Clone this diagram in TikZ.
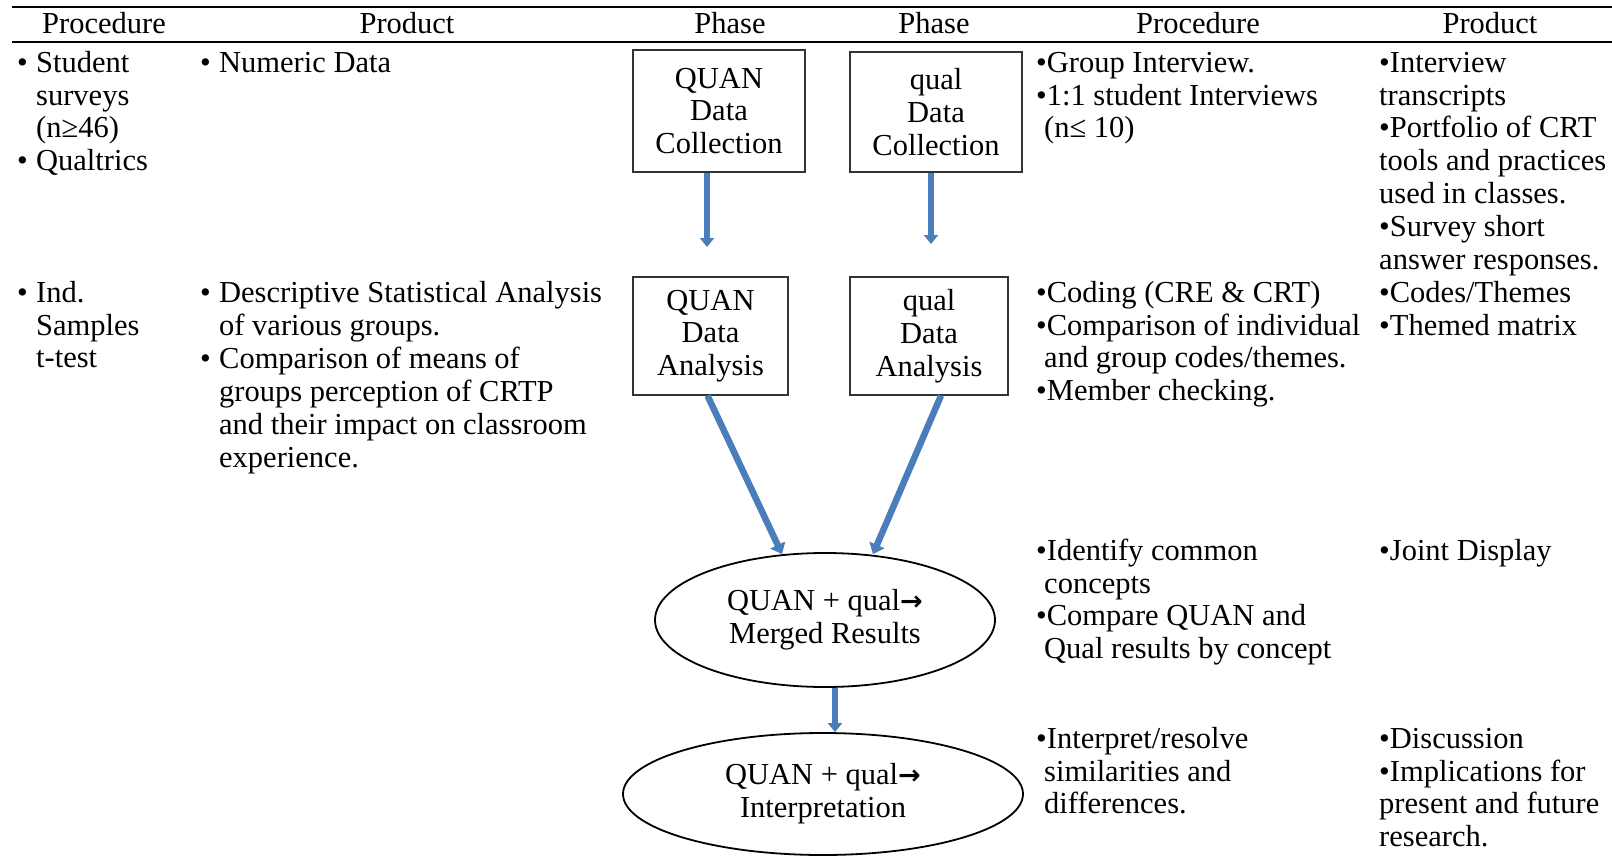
\documentclass[tikz,border=0pt]{standalone}
\usepackage{fontspec}
\setmainfont{Liberation Serif}
\newfontfamily\symfont{DejaVu Sans}
\usetikzlibrary{shapes.geometric,arrows.meta}
\definecolor{flowblue}{RGB}{74,126,187}
\newlength\hang
\setlength\hang{19pt}
\newcommand\itm{\makebox[\hang][l]{•}}
\newcommand\cont{\hspace*{\hang}}
\newcommand\rarr{{\symfont\bfseries\fontsize{27}{27}\selectfont →}}
\begin{document}
\begin{tikzpicture}[x=1pt,y=-1pt,
  every node/.style={font=\fontsize{30.5}{32.8}\selectfont, inner sep=0pt},
  txt/.style={anchor=north west, align=left, yshift=22.96pt},
  head/.style={anchor=base},
  stagebox/.style={draw=black!80, line width=1.3pt, align=center},
  stageoval/.style={draw=black, ellipse, line width=1.8pt, align=center},
  flow/.style={draw=flowblue, line width=5.5pt, -{Triangle[width=14pt,length=9pt]}}]
\useasboundingbox (0,0) rectangle (1612,867);

% table rules
\draw[line width=2pt] (12,7) -- (1612,7);
\draw[line width=2pt] (12,42) -- (1612,42);

% column heads
\node[head] (h1) at (104,34) {Procedure};
\node[head] (h2) at (407,34) {Product};
\node[head] (h3) at (730,34) {Phase};
\node[head] (h4) at (934,34) {Phase};
\node[head] (h5) at (1198,34) {Procedure};
\node[head] (h6) at (1490,34) {Product};

% left procedure / product columns (positions are first-line baselines)
\node[txt] (p1a) at (17,72) {\strut\itm Student\\ \cont surveys\\ \cont (n≥46)\\ \itm Qualtrics};
\node[txt] (p1b) at (17,302) {\strut\itm Ind.\\ \cont Samples\\ \cont t-test};
\node[txt] (r1a) at (200,72) {\strut\itm Numeric Data};
\node[txt] (r1b) at (200,302) {\strut\itm Descriptive Statistical Analysis\\ \cont of various groups.\\[1pt] \itm Comparison of means of\\ \cont groups perception of CRTP\\ \cont and their impact on classroom\\ \cont experience.};

% phase boxes
\node[stagebox, minimum width=172pt, minimum height=122pt] (qc) at (719,111) {QUAN\\ Data\\ Collection};
\node[stagebox, minimum width=172pt, minimum height=120pt] (lc) at (936,112) {qual\\ Data\\ Collection};
\node[stagebox, minimum width=155pt, minimum height=118pt] (qa) at (710.5,336) {QUAN\\ Data\\ Analysis};
\node[stagebox, minimum width=158pt, minimum height=118pt] (la) at (929,336) {qual\\ Data\\ Analysis};
\node[stageoval, minimum width=340pt, minimum height=134pt] (mr) at (825,620) {QUAN + qual\rarr\\ Merged Results};
\node[stageoval, minimum width=400pt, minimum height=122pt] (ip) at (823,794) {QUAN + qual\rarr\\ Interpretation};

% free ends of the collection arrows
\coordinate (qcend) at (707,247);
\coordinate (lcend) at (931,244);

\draw[flow] (qc.south -| qcend) -- (qcend);
\draw[flow] (lc.south -| lcend) -- (lcend);
\draw[flow, line width=6.5pt, -{Triangle[width=16pt,length=10pt]}] ([xshift=-3pt]qa.south) -- ([xshift=-43pt,yshift=-2pt]mr.north);
\draw[flow, line width=6.5pt, -{Triangle[width=16pt,length=10pt]}] ([xshift=12pt]la.south) -- ([xshift=48pt,yshift=-2pt]mr.north);
\draw[flow] ([xshift=10pt]mr.south) -- ([xshift=10pt]mr.south |- ip.north);

% right procedure column
\node[txt] (p2a) at (1036,72) {\strut•Group Interview.\\ •1:1 student Interviews\\ \hspace*{8pt}(n≤ 10)};
\node[txt] (p2b) at (1036,302) {\strut•Coding (CRE \& CRT)\\ •Comparison of individual\\ \hspace*{8pt}and group codes/themes.\\ •Member checking.};
\node[txt] (p2c) at (1036,560) {\strut•Identify common\\ \hspace*{8pt}concepts\\ •Compare QUAN and\\ \hspace*{8pt}Qual results by concept};
\node[txt] (p2d) at (1036,748) {\strut•Interpret/resolve\\ \hspace*{8pt}similarities and\\ \hspace*{8pt}differences.};

% right product column
\node[txt] (r2a) at (1379,72) {\strut•Interview\\ transcripts\\ •Portfolio of CRT\\ tools and practices\\ used in classes.\\ •Survey short\\ answer responses.};
\node[txt] (r2b) at (1379,302) {\strut•Codes/Themes\\ •Themed matrix};
\node[txt] (r2c) at (1379,560) {\strut•Joint Display};
\node[txt] (r2d) at (1379,748) {\strut•Discussion\\ •Implications for\\ present and future\\ research.};
\end{tikzpicture}
\end{document}
